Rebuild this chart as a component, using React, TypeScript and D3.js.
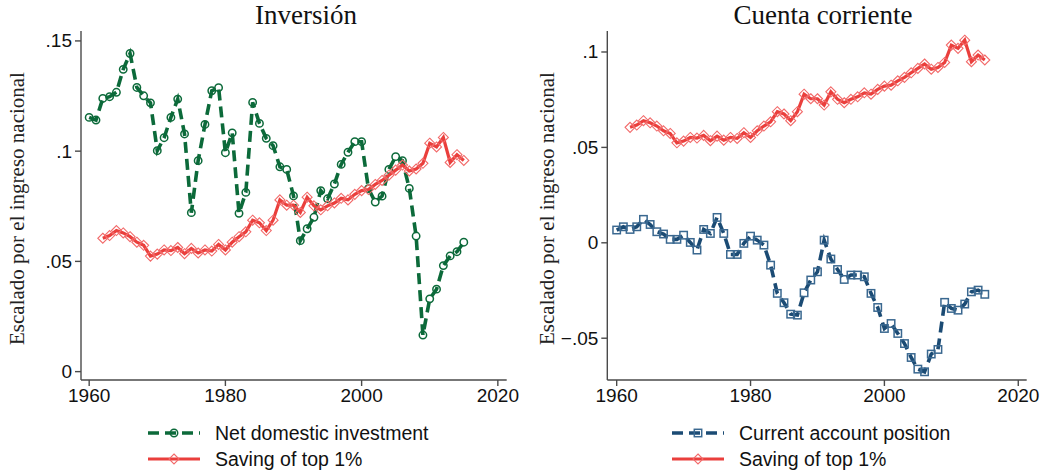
import React from "react";
import * as d3 from "d3";

const years: number[] = [
  1960, 1961, 1962, 1963, 1964, 1965, 1966, 1967, 1968, 1969,
  1970, 1971, 1972, 1973, 1974, 1975, 1976, 1977, 1978, 1979,
  1980, 1981, 1982, 1983, 1984, 1985, 1986, 1987, 1988, 1989,
  1990, 1991, 1992, 1993, 1994, 1995, 1996, 1997, 1998, 1999,
  2000, 2001, 2002, 2003, 2004, 2005, 2006, 2007, 2008, 2009,
  2010, 2011, 2012, 2013, 2014, 2015,
];

// Net domestic investment, 1960-2015
const netInvestment: number[] = [
  0.1153, 0.1141, 0.1239, 0.1247, 0.1267, 0.1371, 0.1443, 0.1289, 0.1251, 0.1219,
  0.1002, 0.1061, 0.1153, 0.1236, 0.1078, 0.0721, 0.0957, 0.1121, 0.1274, 0.1288,
  0.0993, 0.1083, 0.0718, 0.0813, 0.1221, 0.1126, 0.1058, 0.1025, 0.0929, 0.0917,
  0.0797, 0.0594, 0.0648, 0.0700, 0.0821, 0.0784, 0.0851, 0.0940, 0.0995, 0.1043,
  0.1043, 0.0830, 0.0769, 0.0796, 0.0917, 0.0975, 0.0957, 0.0831, 0.0615, 0.0166,
  0.0330, 0.0374, 0.0481, 0.0525, 0.0544, 0.0587,
];

// Current account position, 1960-2015
const currentAccount: number[] = [
  0.0067, 0.0084, 0.0070, 0.0084, 0.0123, 0.0096, 0.0058, 0.0046, 0.0018, 0.0018,
  0.0040, 0.0002, -0.0038, 0.0070, 0.0049, 0.0133, 0.0049, -0.0061, -0.0061, -0.0003,
  0.0035, 0.0014, -0.0012, -0.0117, -0.0265, -0.0314, -0.0374, -0.0379, -0.0262, -0.0195,
  -0.0152, 0.0014, -0.0085, -0.0140, -0.0192, -0.0169, -0.0169, -0.0178, -0.0265, -0.0339,
  -0.0449, -0.0423, -0.0475, -0.0528, -0.0601, -0.0662, -0.0676, -0.0583, -0.0559, -0.0312,
  -0.0344, -0.0353, -0.0321, -0.0257, -0.0248, -0.0270,
];

// Saving of top 1%, 1962-2015 (null before 1962)
const savingTop1: (number | null)[] = [
  null, null, 0.0605, 0.0617, 0.0640, 0.0629, 0.0612, 0.0587, 0.0573, 0.0524,
  0.0533, 0.0552, 0.0549, 0.0563, 0.0535, 0.0559, 0.0538, 0.0552, 0.0547, 0.0577,
  0.0552, 0.0587, 0.0612, 0.0634, 0.0687, 0.0675, 0.0640, 0.0687, 0.0779, 0.0755,
  0.0755, 0.0722, 0.0791, 0.0752, 0.0734, 0.0752, 0.0765, 0.0786, 0.0779, 0.0804,
  0.0821, 0.0826, 0.0849, 0.0867, 0.0891, 0.0914, 0.0937, 0.0910, 0.0919, 0.0945,
  0.1036, 0.1019, 0.1062, 0.0949, 0.0984, 0.0958,
];

const xTicks: number[] = [1960, 1980, 2000, 2020];
const leftYTicks: number[] = [0, 0.05, 0.1, 0.15];
const leftYTickLabels: string[] = ["0", ".05", ".1", ".15"];
const rightYTicks: number[] = [-0.05, 0, 0.05, 0.1];
const rightYTickLabels: string[] = ["\u2212.05", "0", ".05", ".1"];

const titles: string[] = ["Inversión", "Cuenta corriente"];
const yTitle = "Escalado por el ingreso nacional";
const leftLegend: string[] = ["Net domestic investment", "Saving of top 1%"];
const rightLegend: string[] = ["Current account position", "Saving of top 1%"];

const GREEN = "#0c6a3a";
const BLUE = "#1b4b74";
const BLUE_MARK = "#3a6890";
const RED = "#ea3f3c";
const RED_MARK = "#f26a6a";
const AXIS = "#4a4a4a";
const SANS = "'Liberation Sans', Arial, Helvetica, sans-serif";
const SERIF = "'Liberation Serif', 'Times New Roman', serif";

type Marker = "circle" | "square" | "diamond";

function MarkerShape({ type, x, y, color }: { type: Marker; x: number; y: number; color: string }) {
  if (type === "circle") {
    return <circle cx={x} cy={y} r={3.7} fill="none" stroke={color} strokeWidth={1.5} />;
  }
  if (type === "square") {
    return <rect x={x - 3.7} y={y - 3.7} width={7.4} height={7.4} fill="none" stroke={color} strokeWidth={1.5} />;
  }
  const s = 5;
  return (
    <path
      d={`M${x},${y - s}L${x + s},${y}L${x},${y + s}L${x - s},${y}Z`}
      fill="none"
      stroke={color}
      strokeWidth={1.1}
    />
  );
}

interface PanelProps {
  title: string;
  titleX: number;
  xRange: [number, number];
  xDomain: [number, number];
  yRange: [number, number];
  yDomain: [number, number];
  yTicks: number[];
  yTickLabels: string[];
  yTitleX: number;
  dashedSeries: number[];
  dashedColor: string;
  dashedMarkColor: string;
  dashedMarker: Marker;
}

function Panel(p: PanelProps) {
  const x = d3.scaleLinear().domain(p.xDomain).range(p.xRange);
  const y = d3.scaleLinear().domain(p.yDomain).range(p.yRange);
  const [x0, x1] = p.xRange;
  const [yb, yt] = p.yRange;

  const dashedPts = years.map((yr, i) => ({ yr, v: p.dashedSeries[i] as number | null }));
  const redPts = years.map((yr, i) => ({ yr, v: savingTop1[i] }));
  const line = d3
    .line<{ yr: number; v: number | null }>()
    .defined((d) => d.v !== null)
    .x((d) => x(d.yr))
    .y((d) => y(d.v as number));

  const cy = (yb + yt) / 2;

  return (
    <g>
      <text x={p.titleX} y={24} textAnchor="middle" fontFamily={SERIF} fontSize={27} fill="#111">
        {p.title}
      </text>
      <text
        transform={`translate(${p.yTitleX},${cy + 3}) rotate(-90)`}
        textAnchor="middle"
        fontFamily={SERIF}
        fontSize={21}
        fill="#222"
      >
        {yTitle}
      </text>
      {/* axes */}
      <line x1={x0} y1={yt} x2={x0} y2={yb} stroke={AXIS} strokeWidth={1.4} />
      <line x1={x0} y1={yb} x2={x1} y2={yb} stroke={AXIS} strokeWidth={1.4} />
      {p.yTicks.map((t, i) => (
        <g key={"yt" + i}>
          <line x1={x0 - 6} x2={x0} y1={y(t)} y2={y(t)} stroke={AXIS} strokeWidth={1.4} />
          <text
            x={x0 - 9}
            y={y(t) + 6.5}
            textAnchor="end"
            fontFamily={SANS}
            fontSize={19}
            fill="#111"
          >
            {p.yTickLabels[i]}
          </text>
        </g>
      ))}
      {xTicks.map((t) => (
        <g key={"xt" + t}>
          <line x1={x(t)} x2={x(t)} y1={yb} y2={yb + 6} stroke={AXIS} strokeWidth={1.4} />
          <text x={x(t)} y={yb + 21.5} textAnchor="middle" fontFamily={SANS} fontSize={19} fill="#111">
            {t}
          </text>
        </g>
      ))}
      {/* dashed series */}
      <path
        d={line(dashedPts) || ""}
        fill="none"
        stroke={p.dashedColor}
        strokeWidth={3.6}
        strokeDasharray="11,6"
      />
      {dashedPts.map((d) => (
        <MarkerShape key={"dm" + d.yr} type={p.dashedMarker} x={x(d.yr)} y={y(d.v as number)} color={p.dashedMarkColor} />
      ))}
      {/* red series */}
      <path d={line(redPts) || ""} fill="none" stroke={RED} strokeWidth={3.2} />
      {redPts
        .filter((d) => d.v !== null)
        .map((d) => (
          <MarkerShape key={"rm" + d.yr} type="diamond" x={x(d.yr)} y={y(d.v as number)} color={RED_MARK} />
        ))}
    </g>
  );
}

function Legend({
  x0,
  labels,
  dashedColor,
  dashedMarkColor,
  marker,
}: {
  x0: number;
  labels: string[];
  dashedColor: string;
  dashedMarkColor: string;
  marker: Marker;
}) {
  const w = 52;
  const rows = [433, 459];
  return (
    <g>
      <line x1={x0} x2={x0 + w} y1={rows[0]} y2={rows[0]} stroke={dashedColor} strokeWidth={3.6} strokeDasharray="11,6" />
      <MarkerShape type={marker} x={x0 + w / 2} y={rows[0]} color={dashedMarkColor} />
      <text x={x0 + 67} y={rows[0] + 7} fontFamily={SANS} fontSize={19.5} fill="#111">
        {labels[0]}
      </text>
      <line x1={x0} x2={x0 + w} y1={rows[1]} y2={rows[1]} stroke={RED} strokeWidth={3.2} />
      <MarkerShape type="diamond" x={x0 + w / 2} y={rows[1]} color={RED_MARK} />
      <text x={x0 + 67} y={rows[1] + 7} fontFamily={SANS} fontSize={19.5} fill="#111">
        {labels[1]}
      </text>
    </g>
  );
}

export default function App() {
  return (
    <svg
      width={1040}
      height={471}
      viewBox="0 0 1040 471"
      style={{ position: "absolute", left: 0, top: 0, background: "#fff" }}
    >
      <rect width={1040} height={471} fill="#fff" />
      <Panel
        title={titles[0]}
        titleX={306}
        xRange={[81, 506.7]}
        xDomain={[1958.8, 2021.3]}
        yRange={[380, 31]}
        yDomain={[-0.0038, 0.1545]}
        yTicks={leftYTicks}
        yTickLabels={leftYTickLabels}
        yTitleX={24}
        dashedSeries={netInvestment}
        dashedColor={GREEN}
        dashedMarkColor={GREEN}
        dashedMarker="circle"
      />
      <Panel
        title={titles[1]}
        titleX={823}
        xRange={[607.3, 1026.7]}
        xDomain={[1958.6, 2021.26]}
        yRange={[380, 31]}
        yDomain={[-0.0719, 0.111]}
        yTicks={rightYTicks}
        yTickLabels={rightYTickLabels}
        yTitleX={554}
        dashedSeries={currentAccount}
        dashedColor={BLUE}
        dashedMarkColor={BLUE_MARK}
        dashedMarker="square"
      />
      <Legend x0={148} labels={leftLegend} dashedColor={GREEN} dashedMarkColor={GREEN} marker="circle" />
      <Legend x0={672} labels={rightLegend} dashedColor={BLUE} dashedMarkColor={BLUE_MARK} marker="square" />
    </svg>
  );
}
